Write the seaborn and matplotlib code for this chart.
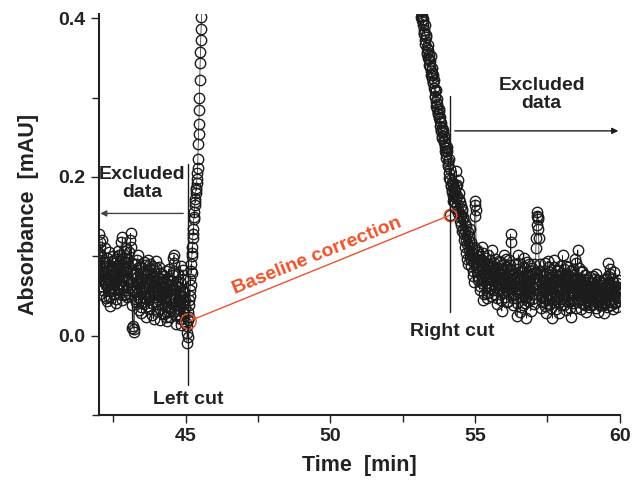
import numpy as np
import pandas as pd
import matplotlib
matplotlib.use("Agg")
import matplotlib.pyplot as plt
import seaborn as sns

# baseline before the peak: two interleaved sample sets, 0.025 min apart each
baseline_start, baseline_step = 42.0, 0.025
baseline_abs = [
    0.128, 0.095, 0.112, 0.062, 0.084, 0.120, 0.071, 0.050, 0.091, 0.066,
    0.079, 0.044, 0.098, 0.072, 0.058, 0.088, 0.037, 0.069, 0.094, 0.061,
    0.083, 0.052, 0.075, 0.097, 0.046, 0.070, 0.089, 0.057, 0.101, 0.066,
    0.078, 0.118, 0.045, 0.087, 0.064, 0.107, 0.053, 0.080, 0.092, 0.049,
    0.071, 0.097, 0.060, 0.083, 0.129, 0.112, 0.038, 0.076, 0.012, 0.005,
    0.056, 0.090, 0.043, 0.074, 0.101, 0.032, 0.065, 0.048, 0.086, 0.029,
    0.071, 0.054, 0.093, 0.040, 0.062, 0.083, 0.024, 0.068, 0.095, 0.050,
    0.034, 0.077, 0.058, 0.088, 0.041, 0.064, 0.021, 0.073, 0.049, 0.085,
    0.056, 0.031, 0.069, 0.045, 0.079, 0.020, 0.060, 0.038, 0.072, 0.052,
    0.027, 0.066, 0.044, 0.081, 0.018, 0.055, 0.036, 0.070, 0.047, 0.024,
    0.062, 0.040, 0.076, 0.098, 0.102, 0.031, 0.057, 0.015, 0.068, 0.043,
    0.026, 0.061, 0.038, 0.088, 0.013, 0.050, 0.030, 0.072, 0.019, 0.045,
    0.016,
]
baseline_abs_mid = [
    0.104, 0.118, 0.076, 0.101, 0.058, 0.093, 0.081, 0.067, 0.110, 0.047,
    0.088, 0.063, 0.073, 0.105, 0.049, 0.066, 0.083, 0.056, 0.077, 0.100,
    0.059, 0.092, 0.068, 0.041, 0.085, 0.061, 0.107, 0.074, 0.052, 0.087,
    0.096, 0.063, 0.124, 0.070, 0.051, 0.093, 0.077, 0.110, 0.058, 0.082,
    0.088, 0.052, 0.106, 0.121, 0.067, 0.091, 0.010, 0.058, 0.008, 0.046,
    0.079, 0.061, 0.095, 0.052, 0.068, 0.087, 0.045, 0.073, 0.036, 0.062,
    0.042, 0.080, 0.061, 0.072, 0.089, 0.047, 0.060, 0.081, 0.037, 0.066,
    0.090, 0.052, 0.069, 0.026, 0.083, 0.055, 0.075, 0.043, 0.094, 0.062,
    0.040, 0.073, 0.051, 0.086, 0.034, 0.067, 0.049, 0.078, 0.029, 0.061,
    0.075, 0.037, 0.058, 0.024, 0.071, 0.046, 0.084, 0.030, 0.059, 0.064,
    0.035, 0.069, 0.052, 0.091, 0.082, 0.048, 0.026, 0.063, 0.038, 0.078,
    0.052, 0.033, 0.068, 0.021, 0.058, 0.041, 0.083, 0.028, 0.055, 0.036,
]

# front of the peak, sampled every 0.011 min from 45.04 min
rise_start, rise_step = 45.04, 0.011
rise_abs = [
    -0.009, 0.003, 0.012, -0.002, 0.020, 0.030, 0.024, 0.045, 0.038, 0.058,
    0.050, 0.071, 0.064, 0.082, 0.090, 0.079, 0.100, 0.112, 0.104, 0.123,
    0.135, 0.128, 0.147, 0.156, 0.150, 0.165, 0.172, 0.168, 0.180, 0.186,
    0.183, 0.192, 0.197, 0.205, 0.211, 0.222, 0.242, 0.254, 0.267, 0.284,
    0.300, 0.322, 0.343, 0.357, 0.372, 0.386, 0.401, 0.420,
]

# tail of the peak: two interleaved sample sets, 0.025 min apart each
tail_start, tail_step = 53.1, 0.025
tail_abs = [
    0.415, 0.409, 0.398, 0.403, 0.391, 0.385, 0.380, 0.372, 0.376, 0.362,
    0.355, 0.360, 0.348, 0.341, 0.346, 0.333, 0.337, 0.325, 0.318, 0.322,
    0.308, 0.301, 0.294, 0.298, 0.285, 0.279, 0.283, 0.270, 0.264, 0.258,
    0.262, 0.252, 0.256, 0.245, 0.238, 0.242, 0.229, 0.233, 0.220, 0.214,
    0.205, 0.196, 0.152, 0.188, 0.181, 0.176, 0.191, 0.168, 0.182, 0.174,
    0.208, 0.165, 0.196, 0.158, 0.172, 0.149, 0.163, 0.140, 0.157, 0.135,
    0.147, 0.128, 0.112, 0.138, 0.121, 0.096, 0.130, 0.108, 0.125, 0.101,
    0.118, 0.088, 0.104, 0.075, 0.112, 0.092, 0.170, 0.158, 0.097, 0.081,
    0.106, 0.073, 0.095, 0.062, 0.088, 0.112, 0.070, 0.045, 0.091, 0.079,
    0.098, 0.066, 0.083, 0.054, 0.102, 0.072, 0.090, 0.060, 0.081, 0.108,
    0.069, 0.088, 0.052, 0.079, 0.097, 0.061, 0.074, 0.040, 0.085, 0.066,
    0.093, 0.058, 0.076, 0.031, 0.083, 0.064, 0.101, 0.049, 0.071, 0.087,
    0.057, 0.079, 0.044, 0.095, 0.066, 0.128, 0.083, 0.052, 0.073, 0.038,
    0.061, 0.090, 0.047, 0.074, 0.025, 0.068, 0.102, 0.055, 0.080, 0.036,
    0.072, 0.049, 0.087, 0.060, 0.098, 0.041, 0.066, 0.022, 0.078, 0.054,
    0.090, 0.047, 0.070, 0.031, 0.063, 0.085, 0.052, 0.073, 0.040, 0.079,
    0.110, 0.140, 0.156, 0.150, 0.123, 0.058, 0.082, 0.035, 0.067, 0.049,
    0.076, 0.044, 0.091, 0.059, 0.028, 0.071, 0.053, 0.086, 0.038, 0.065,
    0.080, 0.047, 0.062, 0.022, 0.074, 0.095, 0.051, 0.068, 0.034, 0.083,
    0.056, 0.072, 0.029, 0.064, 0.088, 0.046, 0.070, 0.101, 0.053, 0.039,
    0.078, 0.060, 0.032, 0.069, 0.050, 0.087, 0.043, 0.066, 0.024, 0.074,
    0.055, 0.084, 0.041, 0.062, 0.070, 0.035, 0.091, 0.048, 0.108, 0.063,
    0.045, 0.071, 0.033, 0.058, 0.082, 0.040, 0.064, 0.050, 0.076, 0.030,
    0.059, 0.043, 0.068, 0.036, 0.052, 0.074, 0.038, 0.061, 0.047, 0.066,
    0.040, 0.058, 0.071, 0.035, 0.053, 0.064, 0.030, 0.048, 0.069, 0.044,
    0.057, 0.038, 0.066, 0.046, 0.028, 0.061, 0.050, 0.072, 0.036, 0.055,
    0.091, 0.045, 0.062, 0.084, 0.039, 0.056, 0.068, 0.033, 0.050, 0.063,
    0.042, 0.058, 0.036, 0.054, 0.070, 0.047, 0.060,
]
tail_abs_mid = [
    0.418, 0.402, 0.410, 0.395, 0.399, 0.381, 0.392, 0.368, 0.379, 0.358,
    0.366, 0.350, 0.354, 0.339, 0.352, 0.328, 0.331, 0.320, 0.328, 0.312,
    0.302, 0.310, 0.289, 0.292, 0.280, 0.286, 0.274, 0.276, 0.259, 0.268,
    0.249, 0.259, 0.244, 0.251, 0.233, 0.236, 0.224, 0.238, 0.216, 0.223,
    0.199, 0.210, 0.190, 0.183, 0.194, 0.170, 0.186, 0.179, 0.161, 0.188,
    0.176, 0.190, 0.154, 0.180, 0.145, 0.168, 0.152, 0.160, 0.132, 0.150,
    0.120, 0.142, 0.133, 0.104, 0.116, 0.127, 0.090, 0.119, 0.098, 0.134,
    0.095, 0.110, 0.082, 0.099, 0.068, 0.164, 0.151, 0.086, 0.108, 0.070,
    0.089, 0.100, 0.058, 0.081, 0.097, 0.066, 0.084, 0.104, 0.052, 0.076,
    0.071, 0.091, 0.048, 0.087, 0.063, 0.078, 0.095, 0.050, 0.074, 0.086,
    0.080, 0.057, 0.092, 0.064, 0.071, 0.086, 0.047, 0.079, 0.060, 0.094,
    0.067, 0.084, 0.045, 0.070, 0.090, 0.055, 0.078, 0.062, 0.096, 0.042,
    0.086, 0.064, 0.072, 0.052, 0.089, 0.118, 0.060, 0.077, 0.048, 0.069,
    0.079, 0.053, 0.066, 0.084, 0.041, 0.092, 0.058, 0.071, 0.030, 0.063,
    0.056, 0.081, 0.038, 0.073, 0.062, 0.085, 0.050, 0.093, 0.044, 0.068,
    0.064, 0.076, 0.055, 0.082, 0.046, 0.071, 0.060, 0.090, 0.052, 0.066,
    0.123, 0.151, 0.147, 0.135, 0.072, 0.090, 0.050, 0.075, 0.042, 0.080,
    0.058, 0.068, 0.037, 0.079, 0.048, 0.063, 0.094, 0.045, 0.072, 0.052,
    0.064, 0.035, 0.078, 0.056, 0.087, 0.042, 0.070, 0.059, 0.076, 0.049,
    0.081, 0.043, 0.060, 0.075, 0.038, 0.079, 0.057, 0.066, 0.084, 0.048,
    0.062, 0.088, 0.051, 0.044, 0.077, 0.060, 0.071, 0.035, 0.081, 0.055,
    0.070, 0.045, 0.076, 0.052, 0.097, 0.060, 0.042, 0.073, 0.054, 0.085,
    0.063, 0.052, 0.080, 0.046, 0.067, 0.056, 0.072, 0.039, 0.061, 0.049,
    0.045, 0.070, 0.052, 0.063, 0.042, 0.059, 0.066, 0.049, 0.075, 0.040,
    0.062, 0.047, 0.055, 0.078, 0.044, 0.059, 0.070, 0.053, 0.038, 0.064,
    0.048, 0.066, 0.054, 0.039, 0.070, 0.043, 0.063, 0.046, 0.060, 0.075,
    0.068, 0.051, 0.078, 0.043, 0.059, 0.072, 0.046, 0.060, 0.080, 0.041,
    0.055, 0.066, 0.049, 0.061, 0.044, 0.058,
]

# cut points used for the baseline correction
left_cut, left_base = 45.1, 0.018
right_cut, right_base = 54.15, 0.152

INK = "#1c1c1c"
TEXT = "#222222"
RED = "#f0512a"


def segment(name, start, step, values):
    t = start + step * np.arange(len(values))
    return pd.DataFrame({"time": t, "absorbance": values, "segment": name})


half = baseline_step / 2
df = pd.concat([
    segment("baseline", baseline_start, baseline_step, baseline_abs),
    segment("baseline", baseline_start + half, baseline_step, baseline_abs_mid),
    segment("rise", rise_start, rise_step, rise_abs),
    segment("tail", tail_start, tail_step, tail_abs),
    segment("tail", tail_start + tail_step / 2, tail_step, tail_abs_mid),
], ignore_index=True).sort_values("time")

sns.set_style("ticks")
plt.rcParams["font.family"] = ["Liberation Sans", "DejaVu Sans"]
plt.rcParams["font.weight"] = "bold"

fig, ax = plt.subplots(figsize=(6.37, 4.90), dpi=100)
fig.subplots_adjust(left=0.155, right=0.973, bottom=0.153, top=0.971)

sns.lineplot(data=df, x="time", y="absorbance", units="segment",
             estimator=None, color=INK, lw=0.5,
             marker="o", markersize=7.5, markerfacecolor="none",
             markeredgecolor=INK, markeredgewidth=1.0, legend=False, ax=ax)

# baseline correction line between the two cut points
ax.plot([left_cut, right_cut], [left_base, right_base], color=RED, lw=1.0)
ax.plot([left_cut], [left_base], "o", ms=11, mfc="none", mec=RED, mew=1.0)
ax.plot([right_cut], [right_base], "o", ms=9, mfc="none", mec=RED, mew=1.0)
ax.text(49.55, 0.1, "Baseline correction", color=RED, fontsize=14,
        fontweight="bold", rotation=22, ha="center", va="center")

# cut markers
ax.plot([45.08, 45.08], [-0.062, 0.216], color=INK, lw=1.0)
ax.plot([54.14, 54.14], [0.03, 0.302], color=INK, lw=1.0)
ax.text(45.09, -0.08, "Left cut", ha="center", va="center", fontsize=14,
        color=TEXT)
ax.text(54.2, 0.005, "Right cut", ha="center", va="center", fontsize=14,
        color=TEXT)

# excluded regions
ax.annotate("", xy=(42.05, 0.154), xytext=(44.92, 0.154),
            arrowprops=dict(arrowstyle="-|>", color="#444444", lw=1.0,
                            mutation_scale=9, shrinkA=0, shrinkB=0))
ax.text(43.5, 0.192, "Excluded\ndata", ha="center", va="center",
        fontsize=14, color=TEXT, linespacing=1.05)
ax.annotate("", xy=(59.95, 0.258), xytext=(54.3, 0.258),
            arrowprops=dict(arrowstyle="-|>", color=INK, lw=1.0,
                            mutation_scale=9, shrinkA=0, shrinkB=0))
ax.text(57.3, 0.304, "Excluded\ndata", ha="center", va="center",
        fontsize=14, color=TEXT, linespacing=1.05)

ax.set_xlim(42, 60)
ax.set_ylim(-0.1, 0.405)
ax.set_xticks([45, 50, 55, 60])
ax.set_xticks([42.5, 47.5, 52.5, 57.5], minor=True)
ax.set_yticks([0.0, 0.2, 0.4])
ax.set_yticks([-0.1, 0.1, 0.3], minor=True)
ax.set_yticklabels(["0.0", "0.2", "0.4"])
ax.tick_params(axis="both", which="major", direction="out", length=6,
               width=1.0, labelsize=14, colors=TEXT)
ax.tick_params(axis="both", which="minor", direction="out", length=5,
               width=1.0, colors=TEXT)
for lab in ax.get_xticklabels() + ax.get_yticklabels():
    lab.set_fontweight("bold")

ax.set_xlabel("Time  [min]", fontsize=15.5, fontweight="bold", color=TEXT,
              labelpad=7)
ax.set_ylabel("Absorbance  [mAU]", fontsize=15.5, fontweight="bold",
              color=TEXT, labelpad=14)
sns.despine(ax=ax)
for side in ("left", "bottom"):
    ax.spines[side].set_linewidth(1.5)
    ax.spines[side].set_color(TEXT)

fig.savefig("out.png", dpi=100)
plt.close(fig)
